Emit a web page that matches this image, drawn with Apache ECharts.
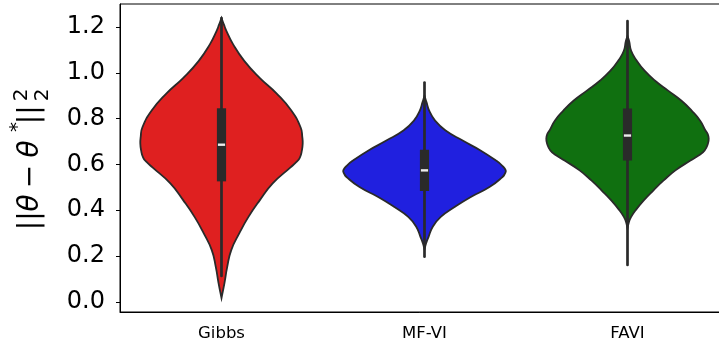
<!DOCTYPE html>
<html>
<head>
<meta charset="utf-8">
<script src="https://cdn.jsdelivr.net/npm/echarts@6/dist/echarts.min.js"></script>
<style>
  html, body { margin: 0; padding: 0; background: #ffffff; }
  #chart { width: 719px; height: 345px; }
</style>
</head>
<body>
<div id="chart"></div>
<script>
// Methods compared and their violin colours
const categories = ['Gibbs', 'MF-VI', 'FAVI'];
const fills = ['#df2020', '#2020df', '#107010'];
const yTicks = [0.0, 0.2, 0.4, 0.6, 0.8, 1.0, 1.2];

// Density outline of each violin: value levels and relative half-width (1 = widest)
const gibbsLevels = [1.239, 1.21, 1.183, 1.126, 1.052, 0.978, 0.909, 0.835, 0.761, 0.72, 0.691, 0.661, 0.63, 0.61, 0.587, 0.517, 0.443, 0.370, 0.300, 0.226, 0.152, 0.083, 0.017];
const gibbsWidths = [0.0, 0.03, 0.06, 0.14, 0.28, 0.47, 0.68, 0.86, 0.975, 0.995, 1.0, 0.99, 0.965, 0.92, 0.85, 0.63, 0.47, 0.33, 0.22, 0.12, 0.07, 0.037, 0.0];

const mfviLevels = [0.90, 0.871, 0.835, 0.791, 0.748, 0.704, 0.661, 0.617, 0.595, 0.574, 0.56, 0.545, 0.501, 0.458, 0.414, 0.371, 0.327, 0.284, 0.256, 0.23];
const mfviWidths = [0.0, 0.025, 0.058, 0.13, 0.26, 0.47, 0.69, 0.88, 0.955, 1.0, 0.99, 0.96, 0.80, 0.57, 0.37, 0.20, 0.10, 0.05, 0.02, 0.0];

const faviLevels = [1.16, 1.139, 1.096, 1.052, 1.009, 0.965, 0.922, 0.878, 0.835, 0.791, 0.748, 0.735, 0.713, 0.69, 0.661, 0.64, 0.617, 0.574, 0.530, 0.487, 0.443, 0.400, 0.371, 0.349, 0.32];
const faviWidths = [0.0, 0.02, 0.045, 0.115, 0.21, 0.34, 0.50, 0.665, 0.79, 0.895, 0.96, 0.985, 1.0, 0.99, 0.95, 0.88, 0.775, 0.59, 0.445, 0.32, 0.20, 0.10, 0.045, 0.018, 0.0];

// Inner box plot summaries
const boxQ1 = [0.526, 0.484, 0.617];
const boxMedian = [0.686, 0.574, 0.726];
const boxQ3 = [0.845, 0.664, 0.844];
const whiskerLow = [0.113, 0.197, 0.161];
const whiskerHigh = [1.239, 0.957, 1.226];

const profiles = [
  { levels: gibbsLevels, widths: gibbsWidths },
  { levels: mfviLevels, widths: mfviWidths },
  { levels: faviLevels, widths: faviWidths }
];

// y range: data extent padded by 5% on both sides
const allVals = [].concat(gibbsLevels, mfviLevels, faviLevels, whiskerLow, whiskerHigh);
const lo = Math.min.apply(null, allVals);
const hi = Math.max.apply(null, allVals);
const pad = (hi - lo) * 0.05;
const yMin = lo - pad;
const yMax = hi + pad;

const INK = '#2a2a2a';

function renderViolin(params, api) {
  const i = api.value(0);
  const prof = profiles[i];
  const band = api.size([1, 0])[0];
  const maxHalf = band * 0.8 / 2;
  const left = [], right = [];
  for (let k = 0; k < prof.levels.length; k++) {
    const p = api.coord([i, prof.levels[k]]);
    const w = prof.widths[k] * maxHalf;
    left.push([p[0] - w, p[1]]);
    right.push([p[0] + w, p[1]]);
  }
  const pts = left.concat(right.reverse());
  const c = api.coord([i, boxMedian[i]]);
  const cx = c[0];
  const yWl = api.coord([i, whiskerLow[i]])[1];
  const yWh = api.coord([i, whiskerHigh[i]])[1];
  const yQ1 = api.coord([i, boxQ1[i]])[1];
  const yQ3 = api.coord([i, boxQ3[i]])[1];
  const boxW = 9.2;
  return {
    type: 'group',
    children: [
      {
        type: 'polygon',
        shape: { points: pts, smooth: 0.5 },
        style: { fill: fills[i], stroke: INK, lineWidth: 1.8 }
      },
      {
        type: 'line',
        shape: { x1: cx, y1: yWl, x2: cx, y2: yWh },
        style: { stroke: INK, lineWidth: 2.7, lineCap: 'round' }
      },
      {
        type: 'rect',
        shape: { x: cx - boxW / 2, y: yQ3, width: boxW, height: yQ1 - yQ3 },
        style: { fill: INK }
      },
      {
        type: 'rect',
        shape: { x: cx - 3.6, y: c[1] - 1.2, width: 7.2, height: 2.4 },
        style: { fill: '#ececec' }
      }
    ]
  };
}

// Axis title ||θ − θ*||₂² laid out piece by piece, rotated to read upwards
const mainFont = '28px "DejaVu Sans"';
const italicFont = 'italic 28px "DejaVu Sans"';
const scriptFont = '20px "DejaVu Sans"';
function piece(text, x, y, font) {
  return {
    type: 'text',
    x: x, y: y,
    style: {
      text: text, font: font, fill: '#000',
      align: 'center', verticalAlign: 'middle',
      textAlign: 'center', textVerticalAlign: 'middle'
    }
  };
}
const yTitle = {
  type: 'group',
  x: 43, y: 226.7,
  rotation: Math.PI / 2,
  children: [
    piece('||', 6, -12, mainFont),
    piece('θ', 23.7, -12, italicFont),
    piece('\u2212', 50.2, -12, mainFont),
    piece('θ', 77.7, -12, italicFont),
    piece('*', 99.7, -25, scriptFont),
    piece('||', 112, -12, mainFont),
    piece('2', 131.7, -21.5, scriptFont),
    piece('2', 131.7, -0.5, scriptFont)
  ]
};

const chart = echarts.init(document.getElementById('chart'), null, { renderer: 'canvas' });
chart.setOption({
  animation: false,
  backgroundColor: '#ffffff',
  textStyle: { fontFamily: 'DejaVu Sans' },
  grid: {
    left: 120, top: 4, width: 609, height: 308,
    outerBoundsMode: 'none',
    containLabel: false,
    show: true, borderColor: '#000', borderWidth: 1, backgroundColor: 'transparent'
  },
  xAxis: {
    type: 'category',
    data: categories,
    boundaryGap: true,
    axisLine: { onZero: false, lineStyle: { color: '#000', width: 1 } },
    axisTick: { alignWithLabel: true, length: 4, lineStyle: { color: '#000', width: 1 } },
    axisLabel: { fontSize: 16.5, color: '#000', fontFamily: 'DejaVu Sans', margin: 13 },
    splitLine: { show: false }
  },
  yAxis: {
    type: 'value',
    min: yMin,
    max: yMax,
    axisLine: { show: true, lineStyle: { color: '#000', width: 1 } },
    axisTick: { show: true, customValues: yTicks, length: 4, lineStyle: { color: '#000', width: 1 } },
    axisLabel: {
      customValues: yTicks,
      fontSize: 24, color: '#000', fontFamily: 'DejaVu Sans', margin: 15,
      formatter: function (v) { return v.toFixed(1); }
    },
    splitLine: { show: false }
  },
  graphic: [yTitle],
  series: [{
    type: 'custom',
    renderItem: renderViolin,
    encode: { x: 0 },
    data: categories.map(function (c, i) { return [i]; }),
    clip: false
  }]
});
</script>
</body>
</html>
